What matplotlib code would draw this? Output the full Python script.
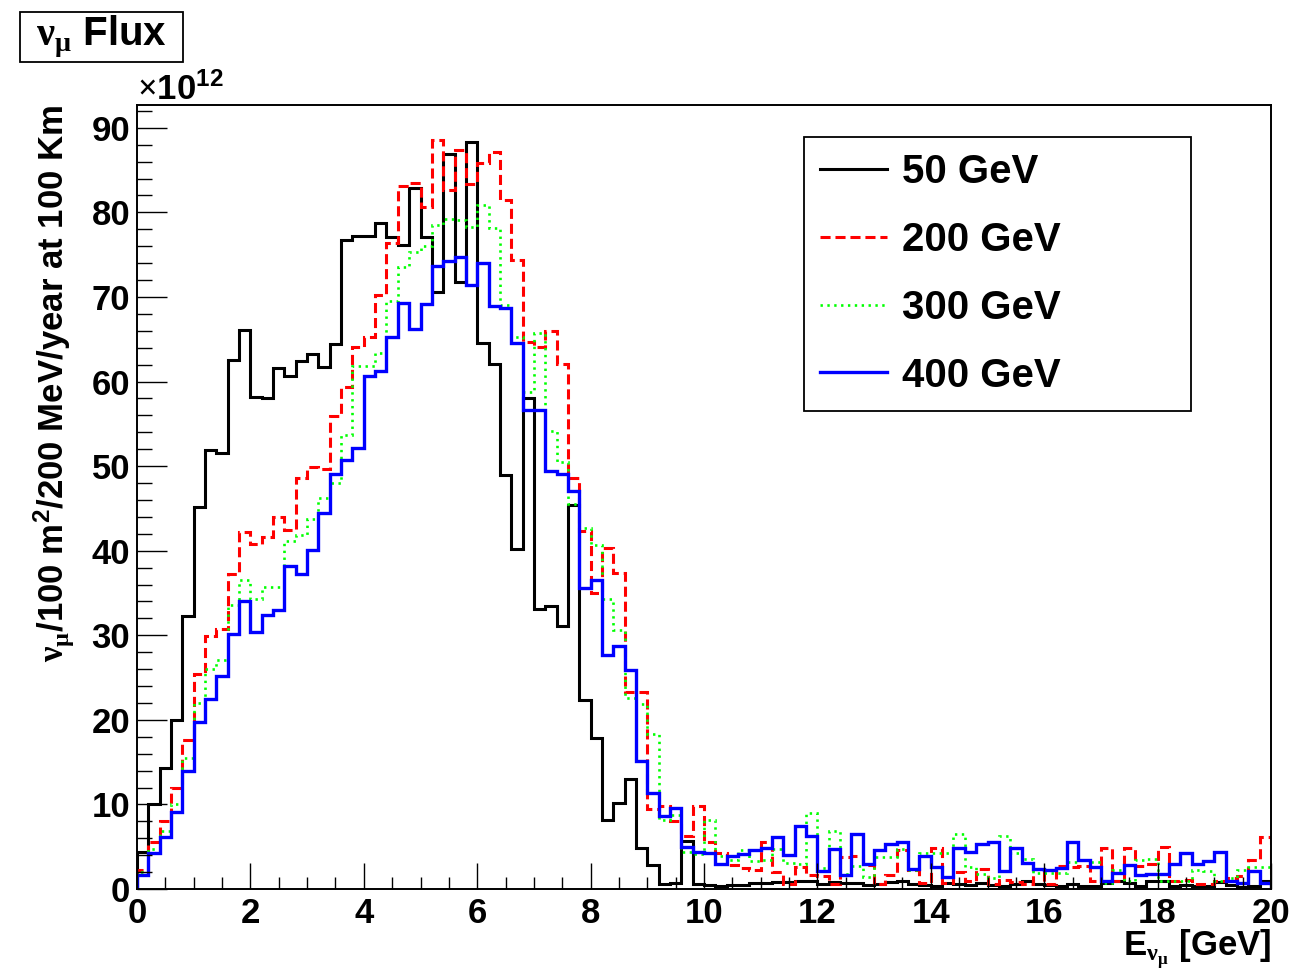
import matplotlib
matplotlib.use('Agg')
import matplotlib.pyplot as plt
from matplotlib.lines import Line2D
from matplotlib.patches import Rectangle
from matplotlib.ticker import MultipleLocator
import numpy as np

plt.rcParams['font.family'] = ['Liberation Sans', 'DejaVu Sans']
plt.rcParams['font.weight'] = 'bold'
plt.rcParams['mathtext.fontset'] = 'custom'
plt.rcParams['mathtext.rm'] = 'Liberation Serif'
plt.rcParams['mathtext.it'] = 'Liberation Serif:italic'
plt.rcParams['mathtext.bf'] = 'Liberation Serif:bold'
plt.rcParams['mathtext.default'] = 'regular'

# ---- data: 100 bins of 200 MeV from 0 to 20 GeV (units of 1e12) ----
e_min, e_max, n_bins = 0.0, 20.0, 100

flux_50 = [4.4, 10.1, 14.3, 20.0, 32.3, 45.2, 51.9, 51.5, 62.5, 66.1,
           58.2, 58.1, 61.6, 60.7, 62.4, 63.3, 61.7, 64.4, 76.7, 77.2,
           77.2, 78.7, 77.1, 76.2, 82.9, 77.1, 70.6, 86.9, 71.8, 88.3,
           64.5, 62.1, 48.9, 40.2, 58.0, 33.1, 33.5, 31.1, 45.4, 22.4,
           17.9, 8.2, 10.2, 13.0, 4.8, 2.8, 0.6, 0.7, 5.7, 0.6,
           0.5, 0.4, 0.5, 0.5, 0.7, 0.7, 0.8, 0.8, 1.0, 0.9,
           0.6, 0.8, 0.7, 0.7, 0.5, 0.6, 0.8, 0.9, 0.6, 0.5,
           0.4, 0.7, 0.6, 0.5, 0.7, 0.5, 0.4, 0.6, 0.9, 0.6,
           0.5, 0.4, 0.6, 0.3, 0.3, 0.7, 1.0, 0.7, 0.3, 1.0,
           0.9, 0.4, 0.5, 0.4, 0.4, 0.8, 0.5, 0.2, 0.3, 1.0]

flux_200 = [2.25, 5.5, 8.0, 11.9, 17.6, 25.4, 29.9, 30.7, 37.2, 42.2,
            40.8, 41.6, 44.0, 42.4, 48.6, 49.9, 49.7, 55.9, 59.4, 64.1,
            65.3, 70.2, 76.4, 83.1, 83.5, 80.6, 88.6, 82.7, 87.4, 83.3,
            85.8, 87.1, 81.5, 74.4, 64.7, 64.1, 66.0, 62.1, 48.6, 42.3,
            35.0, 40.3, 37.4, 23.3, 23.3, 9.5, 9.8, 8.0, 6.3, 9.85,
            5.5, 4.2, 2.8, 2.5, 2.2, 5.6, 2.05, 0.55, 2.6, 1.65,
            1.5, 0.55, 3.8, 3.9, 2.8, 0.55, 1.7, 4.6, 2.3, 0.75,
            4.8, 0.75, 2.0, 1.0, 2.4, 0.55, 1.06, 0.8, 0.6, 2.35,
            0.6, 2.7, 2.6, 2.7, 0.9, 4.8, 1.0, 4.8, 2.7, 3.0,
            5.0, 1.0, 1.1, 0.55, 0.6, 1.0, 1.3, 1.5, 3.4, 6.2]

flux_300 = [2.05, 4.7, 6.9, 10.1, 15.5, 22.0, 26.0, 27.1, 33.6, 36.5,
            34.3, 35.75, 35.75, 41.2, 41.9, 43.7, 46.2, 48.0, 53.7, 61.8,
            61.8, 63.35, 69.5, 73.6, 75.3, 76.0, 78.5, 79.2, 79.1, 78.3,
            80.9, 78.1, 69.1, 65.3, 58.8, 65.8, 54.1, 50.5, 45.5, 42.7,
            40.7, 34.3, 30.6, 22.55, 21.9, 18.35, 8.2, 8.8, 4.4, 4.1,
            8.2, 3.9, 3.4, 4.6, 3.3, 3.4, 4.7, 3.1, 3.0, 8.95,
            2.5, 6.8, 1.8, 2.7, 1.4, 3.8, 3.8, 4.7, 2.2, 4.2,
            4.2, 4.2, 6.5, 2.6, 1.8, 1.3, 6.3, 4.3, 3.6, 1.9,
            1.9, 1.9, 3.2, 3.4, 3.2, 0.7, 2.2, 1.0, 3.4, 3.5,
            0.9, 0.9, 0.9, 2.2, 2.1, 1.0, 1.3, 2.2, 2.6, 2.6]

flux_400 = [1.7, 4.2, 6.1, 9.1, 14.0, 19.8, 22.5, 25.2, 30.2, 34.1,
            30.4, 32.4, 33.0, 38.2, 37.25, 40.1, 44.5, 49.1, 50.7, 52.1,
            60.6, 61.2, 65.3, 69.3, 66.2, 69.2, 73.7, 74.3, 74.7, 71.4,
            74.0, 68.9, 68.7, 64.5, 56.6, 56.6, 49.4, 49.1, 47.1, 35.6,
            36.5, 27.7, 28.7, 25.9, 15.1, 11.4, 8.6, 9.6, 5.0, 4.4,
            4.3, 3.0, 3.9, 4.1, 4.6, 4.8, 6.2, 4.05, 7.5, 6.25,
            2.1, 4.7, 1.65, 6.55, 2.9, 4.65, 5.3, 5.6, 2.4, 3.9,
            2.65, 1.4, 4.9, 4.4, 5.3, 5.5, 2.1, 4.8, 3.05, 2.35,
            2.25, 2.5, 5.5, 3.4, 2.6, 0.95, 1.95, 2.8, 1.65, 1.8,
            1.8, 3.0, 4.3, 3.0, 3.35, 4.4, 0.9, 0.67, 2.1, 0.67]

labels = ['50 GeV', '200 GeV', '300 GeV', '400 GeV']
colors = ['#000000', '#ff0000', '#00ff00', '#0000ff']

edges = np.linspace(e_min, e_max, n_bins + 1)

W, H = 1299, 968
fig = plt.figure(figsize=(W / 100, H / 100), dpi=100)
ax = fig.add_axes([137 / W, 1 - 889 / H, (1271 - 137) / W, (889 - 105) / H])

styles = [
    dict(color=colors[0], lw=2.2, linestyle='-'),
    dict(color=colors[1], lw=2.2, linestyle=(0, (3.3, 1.6))),
    dict(color=colors[2], lw=1.9, linestyle=(0, (0.9, 1.7))),
    dict(color=colors[3], lw=2.4, linestyle='-'),
]
series = [flux_50, flux_200, flux_300, flux_400]
for vals, st in zip(series, styles):
    ax.stairs(vals, edges, baseline=0, fill=False, **st)

ax.set_xlim(0, 20)
ax.set_ylim(0, 92.7)
ax.xaxis.set_major_locator(MultipleLocator(2))
ax.xaxis.set_minor_locator(MultipleLocator(0.5))
ax.yaxis.set_major_locator(MultipleLocator(10))
ax.yaxis.set_minor_locator(MultipleLocator(2))
ax.tick_params(axis='both', which='both', direction='in', top=False, right=False,
               width=1.0, labelsize=25)
ax.tick_params(axis='y', which='major', length=21.6, pad=5)
ax.tick_params(axis='y', which='minor', length=10.8)
ax.tick_params(axis='x', which='major', length=18.5, pad=6)
ax.tick_params(axis='x', which='minor', length=8.8)
for lab in ax.get_xticklabels() + ax.get_yticklabels():
    lab.set_fontweight('bold')
for sp in ax.spines.values():
    sp.set_linewidth(1.4)

handles = [Line2D([], [], **st) for st in styles]
leg = ax.legend(handles, labels, loc='upper left',
                bbox_to_anchor=((804 - 137) / 1134, 0.3, (1191 - 804) / 1134, (889 - 137) / 784 - 0.3),
                mode='expand', borderaxespad=0, borderpad=0.4, handlelength=1.66,
                handletextpad=0.37, labelspacing=0.74, fancybox=False, framealpha=1,
                edgecolor='black', prop={'size': 29, 'weight': 'bold'})
leg.get_frame().set_linewidth(1.3)

# multiplier
fig.text(137 / W, 1 - 100 / H, r'$\mathrm{\times}$10$^{12}$', ha='left', va='baseline',
         fontsize=25, fontweight='bold')

# axis titles
fig.text(54 / W, 1 - 105 / H, r'$\mathrm{\nu}_{\mathrm{\mu}}$/100 m$^{2}$/200 MeV/year at 100 Km',
         rotation=90, ha='center', va='top', fontsize=25, fontweight='bold')
fig.text(1271 / W, 1 - 955 / H, r'E$_{\mathrm{\nu}_{\mathrm{\mu}}}$ [GeV]', ha='right',
         va='baseline', fontsize=25, fontweight='bold')

# title box
fig.patches.append(Rectangle((20 / W, 1 - 62 / H), 163 / W, 50 / H, transform=fig.transFigure,
                             fill=True, facecolor='white', edgecolor='black', lw=1.3))
fig.text(101.5 / W, 1 - 37 / H, r'$\mathrm{\nu}_{\mathrm{\mu}}$ Flux', ha='center', va='center',
         fontsize=29, fontweight='bold')

fig.savefig('out.png', dpi=100)
